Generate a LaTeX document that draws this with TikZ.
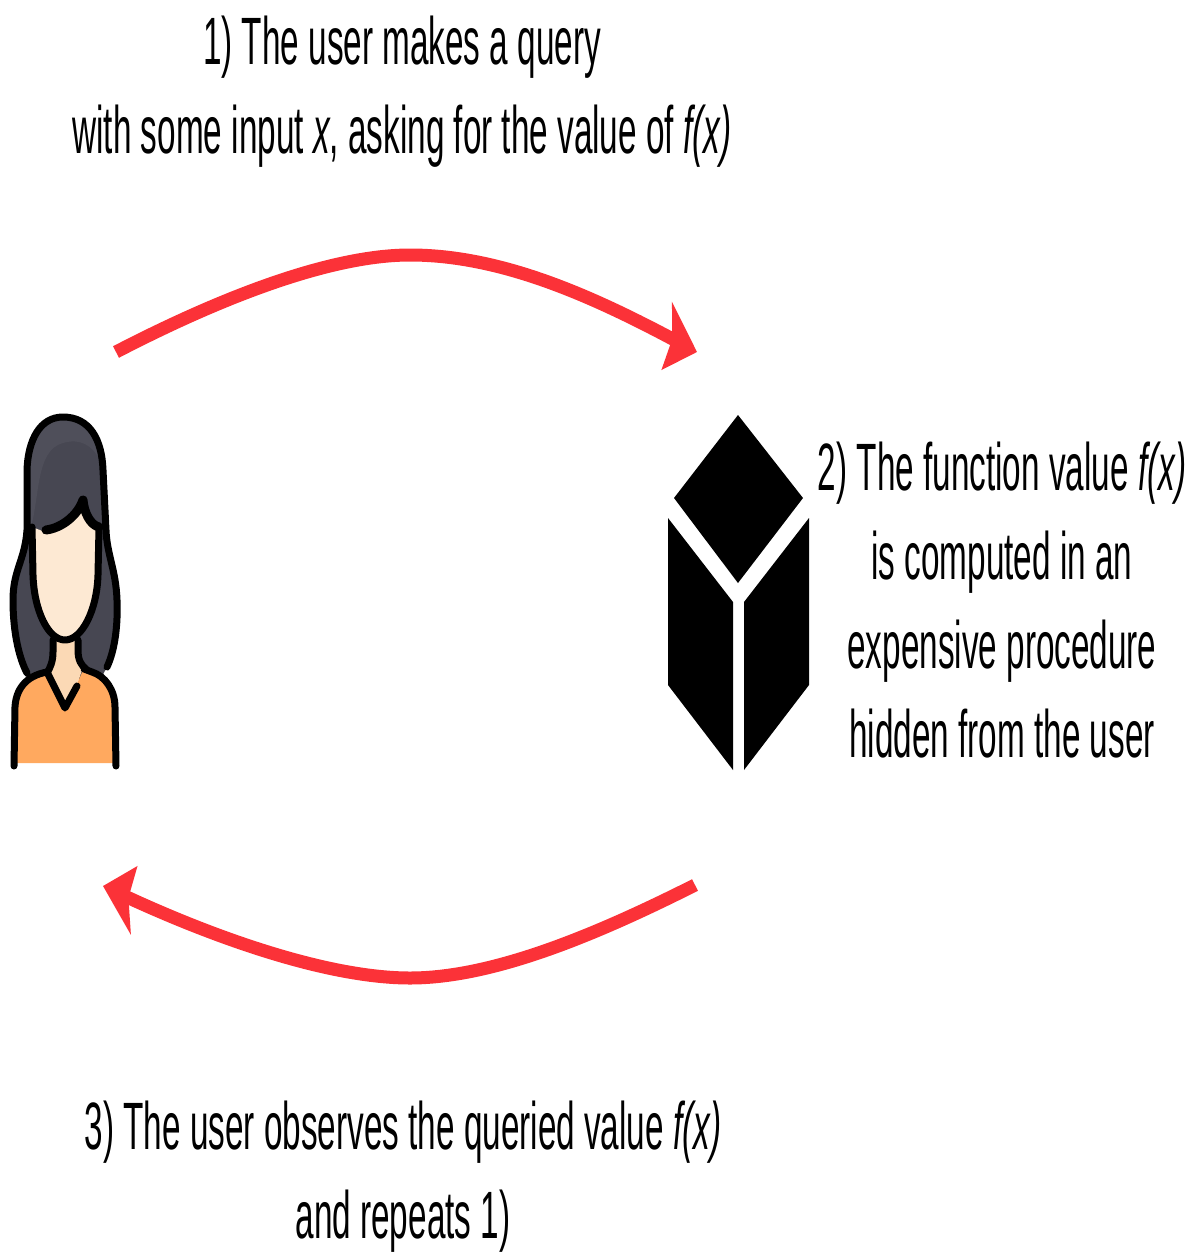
\documentclass[tikz,border=0pt]{standalone}
\usepackage{fontspec}
\setmainfont[FakeStretch=0.497]{Liberation Sans}
\usetikzlibrary{arrows.meta}
\definecolor{arrowred}{HTML}{FB3238}
\definecolor{hairgrey}{HTML}{474752}
\definecolor{hairlight}{HTML}{4F4F5A}
\definecolor{skinpale}{HTML}{FDE9D3}
\definecolor{neckpale}{HTML}{FBD9B5}
\definecolor{shirt}{HTML}{FFA95F}
\tikzset{
  steptext/.style={align=center, inner sep=0pt, font=\fontsize{67}{89}\selectfont},
  flow/.style={-{Stealth[length=34pt, width=64pt, inset=6pt, slant=-.35]}, line width=13pt, draw=arrowred},
  outline/.style={draw=black, line width=7pt, line join=round, line cap=round},
  cubeface/.style={fill=black}
}
\begin{document}
\begin{tikzpicture}[x=1pt, y=-1pt]
\useasboundingbox (0,0) rectangle (1193,1254);

\node[steptext] (query) at (402,92) {1) The user makes a query\\with some input \textit{x}, asking for the value of \textit{f(x)}};
\node[steptext] (compute) at (1002,600) {2) The function value \textit{f(x)}\\is computed in an\\expensive procedure\\hidden from the user};
\node[steptext] (observe) at (403,1177) {3) The user observes the queried value \textit{f(x)}\\and repeats 1)};

\fill[hairgrey] (63,417) .. controls (40,417) and (28,440) .. (27,470) -- (27,530) .. controls (25,560) and (13,570) .. (13,600) .. controls (13,635) and (20,660) .. (27,680) -- (100,680) -- (107,667) .. controls (115,650) and (118,625) .. (117,600) .. controls (116,570) and (107,555) .. (106,530) -- (103,470) .. controls (102,440) and (90,417) .. (63,417) -- cycle;
\fill[hairlight] (63,420) .. controls (42,420) and (31,442) .. (30,470) -- (30,530) .. controls (40,500) and (35,450) .. (63,443) .. controls (80,438) and (92,445) .. (100,460) .. controls (95,435) and (82,420) .. (63,420) -- cycle;
\draw[outline] (27,673) .. controls (20,660) and (13,635) .. (13,600) .. controls (13,570) and (25,560) .. (27,530) -- (27,470) .. controls (28,440) and (40,417) .. (63,417) .. controls (90,417) and (102,440) .. (103,470) -- (106,530) .. controls (107,555) and (116,570) .. (117,600) .. controls (118,625) and (115,650) .. (107,667);

\fill[neckpale] (53,635) -- (53,650) -- (49,673) -- (65,708) -- (77,685) -- (83,667) -- (78,650) -- (78,635) -- cycle;
\draw[outline] (53,640) -- (53,652) .. controls (53,662) and (50,668) .. (47,673);
\draw[outline] (78,640) -- (78,650) .. controls (78,660) and (81,665) .. (86,669);

\fill[skinpale] (32,527) -- (45,532) .. controls (62,530) and (78,515) .. (83,500) .. controls (84,512) and (90,525) .. (98,528) -- (98,575) .. controls (97,610) and (82,640) .. (65,640) .. controls (48,640) and (34,610) .. (33,575) -- cycle;
\draw[outline] (32,527) -- (33,575) .. controls (34,610) and (48,640) .. (65,640) .. controls (82,640) and (97,610) .. (98,575) -- (99,528);
\draw[outline, line width=9pt] (46,530) .. controls (62,528) and (78,515) .. (83,500) .. controls (84,512) and (90,525) .. (99,527);

\fill[shirt] (15,763) -- (15,707) .. controls (16,690) and (25,676) .. (47,672) -- (65,708) -- (77,684) -- (84,668) -- (92,672) .. controls (105,676) and (115,690) .. (115,707) -- (115,763) -- cycle;
\draw[outline] (14,766) -- (15,707) .. controls (16,690) and (25,676) .. (47,672) -- (65,708) -- (77,686);
\draw[outline] (84,669) -- (92,672) .. controls (105,676) and (115,690) .. (115,707) -- (116,766);

\fill[cubeface] (738,415) -- (803,498) -- (738,583) -- (674,498) -- cycle;
\fill[cubeface] (668,518) -- (733,602) -- (733,770) -- (668,685) -- cycle;
\fill[cubeface] (809,518) -- (744,602) -- (744,770) -- (809,685) -- cycle;

\coordinate (userout) at (116,352);
\coordinate (cubein) at (697,352);
\coordinate (cubeout) at (695,885);
\coordinate (userin) at (103,886);
\draw[flow] (userout) .. controls (220,298) and (330,255) .. (410,255) .. controls (500,255) and (590,295) .. (cubein);
\draw[flow] (cubeout) .. controls (590,938) and (490,978) .. (410,978) .. controls (330,978) and (220,940) .. (userin);
\end{tikzpicture}
\end{document}
